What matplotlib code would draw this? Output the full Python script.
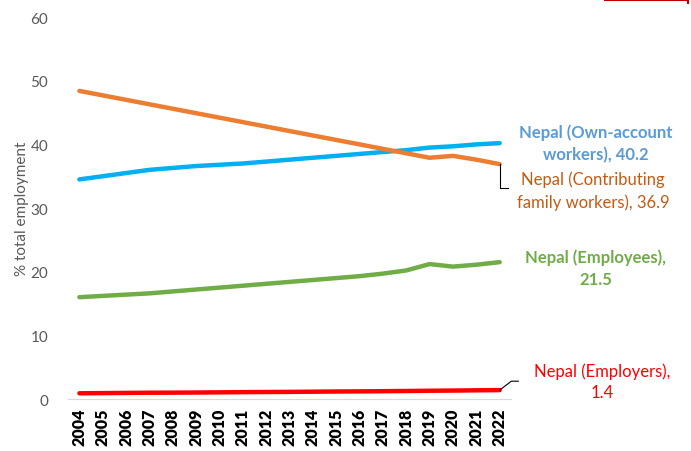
import matplotlib.pyplot as plt
from matplotlib.lines import Line2D

plt.rcParams["font.family"] = ["Lato", "DejaVu Sans"]

years = list(range(2004, 2023))
own_account = [34.5, 35.0, 35.5, 36.0, 36.3, 36.6, 36.8, 37.0, 37.3, 37.6, 37.9, 38.2, 38.5, 38.8, 39.1, 39.5, 39.7, 40.0, 40.2]
contributing = [48.4, 47.7, 47.0, 46.3, 45.6, 44.9, 44.2, 43.5, 42.8, 42.1, 41.4, 40.7, 40.0, 39.3, 38.6, 37.9, 38.2, 37.6, 36.9]
employees = [16.0, 16.2, 16.4, 16.6, 16.9, 17.2, 17.5, 17.8, 18.1, 18.4, 18.7, 19.0, 19.3, 19.7, 20.2, 21.2, 20.8, 21.1, 21.5]
employers = [0.9, 0.93, 0.96, 0.99, 1.0, 1.02, 1.05, 1.08, 1.1, 1.12, 1.15, 1.18, 1.2, 1.23, 1.26, 1.3, 1.33, 1.37, 1.4]

fig = plt.figure(figsize=(6.91, 4.52), dpi=100)
ax = fig.add_axes([0.098, 0.115, 0.642, 0.845])

ax.plot(years, own_account, color="#00B0F0", lw=3.2, solid_capstyle="round")
ax.plot(years, contributing, color="#ED7D31", lw=3.2, solid_capstyle="round")
ax.plot(years, employees, color="#70AD47", lw=3.2, solid_capstyle="round")
ax.plot(years, employers, color="#FF0000", lw=3.2, solid_capstyle="round")

ax.set_xlim(2003.5, 2022.5)
ax.set_ylim(0, 60)
ax.set_yticks(range(0, 61, 10))
ax.set_xticks(years)
ax.set_xticklabels([str(y) for y in years], rotation=90, fontweight="heavy", fontsize=11.5, color="black")
ax.tick_params(axis="y", labelsize=11, labelcolor="#595959", length=0, pad=14)
ax.tick_params(axis="x", length=0, pad=6)
for s in ["top", "right", "left"]:
    ax.spines[s].set_visible(False)
ax.spines["bottom"].set_color("#D9D9D9")
ax.set_ylabel("% total employment", fontsize=11, color="#595959", labelpad=1)

# end-of-line labels
ax.annotate("Nepal (Own-account\nworkers), 40.2", xy=(2026.1, 40.2), ha="center", va="center",
            color="#5B9BD5", fontweight="bold", fontsize=12, annotation_clip=False, linespacing=1.45)
ax.annotate("Nepal (Contributing\nfamily workers), 36.9", xy=(2026.0, 32.8), ha="center", va="center",
            color="#C55A11", fontsize=12, annotation_clip=False, linespacing=1.45)
ax.annotate("Nepal (Employees),\n21.5", xy=(2026.1, 20.6), ha="center", va="center",
            color="#70AD47", fontweight="bold", fontsize=12, annotation_clip=False, linespacing=1.45)
ax.annotate("Nepal (Employers),\n1.4", xy=(2026.4, 2.8), ha="center", va="center",
            color="#FF0000", fontsize=12, annotation_clip=False, linespacing=1.45)

# leader lines
ax.plot([2022, 2022, 2022.35], [36.9, 33.2, 33.2], color="black", lw=0.8, clip_on=False)
ax.plot([2022, 2022.5, 2022.8], [1.4, 2.8, 2.8], color="black", lw=0.8, clip_on=False)

# small red border fragment at top right
y_top = 1 - 1.0 / 452
fig.add_artist(Line2D([605 / 691, 688 / 691, 688 / 691], [y_top, y_top, 1 - 4.0 / 452],
                      color="#C00000", lw=1.5, transform=fig.transFigure))

fig.savefig("out.png", dpi=100)
